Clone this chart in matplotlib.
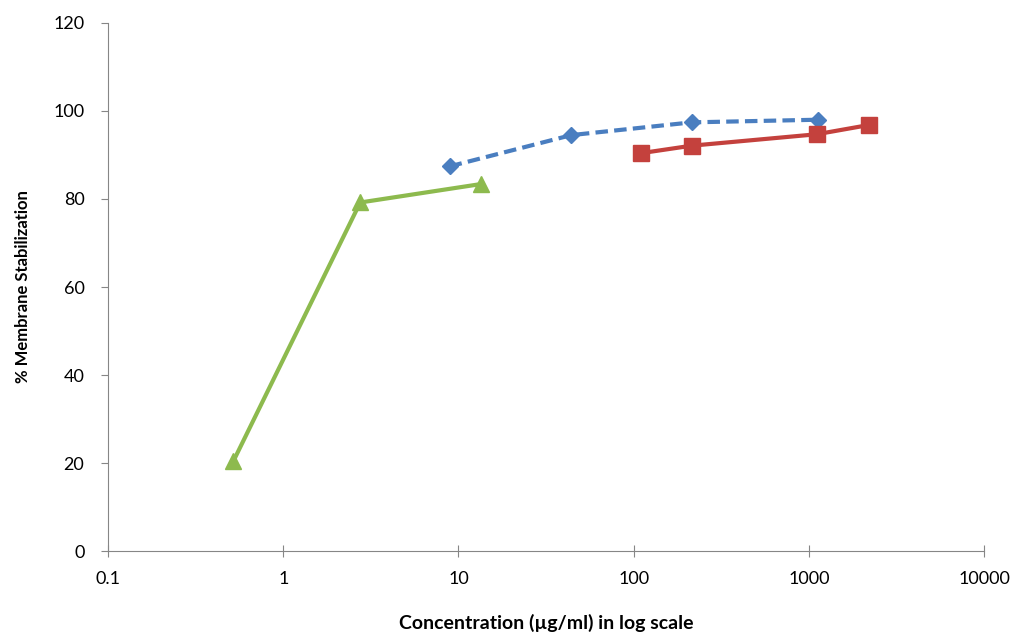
import matplotlib
matplotlib.use('Agg')
import matplotlib.pyplot as plt
from matplotlib.ticker import FixedLocator, FixedFormatter, NullLocator

plt.rcParams['font.family'] = ['Lato', 'DejaVu Sans']

# green triangles
conc_green = [0.52, 2.75, 13.5]
stab_green = [20.5, 79.2, 83.4]
# blue diamonds (dashed)
conc_blue = [8.9, 44, 214, 1125]
stab_blue = [87.4, 94.5, 97.4, 98.0]
# red squares
conc_red = [110, 214, 1110, 2200]
stab_red = [90.4, 92.1, 94.7, 96.8]

x_ticks = [0.1, 1, 10, 100, 1000, 10000]
x_labels = ['0.1', '1', '10', '100', '1000', '10000']
y_ticks = [0, 20, 40, 60, 80, 100, 120]

fig = plt.figure(figsize=(10.23, 6.35), dpi=100)
ax = fig.add_axes([0.1056, 0.132, 0.8564, 0.832])

ax.plot(conc_green, stab_green, color='#8DBA4E', lw=3, marker='^', ms=12)
ax.plot(conc_blue, stab_blue, color='#4A7EC0', lw=3, ls=(0, (3, 1.5)),
        marker='D', ms=8)
ax.plot(conc_red, stab_red, color='#C4413D', lw=3, marker='s', ms=12)

ax.set_xscale('log')
ax.set_xlim(0.1, 10000)
ax.set_ylim(0, 120)
ax.xaxis.set_major_locator(FixedLocator(x_ticks))
ax.xaxis.set_major_formatter(FixedFormatter(x_labels))
ax.xaxis.set_minor_locator(NullLocator())
ax.set_yticks(y_ticks)

for s in ['top', 'right']:
    ax.spines[s].set_visible(False)
for s in ['left', 'bottom']:
    ax.spines[s].set_color('#868686')
ax.tick_params(axis='x', direction='inout', length=8, color='#868686',
               labelsize=13, pad=10)
ax.tick_params(axis='y', direction='out', length=5, color='#868686',
               labelsize=13, pad=12)

ax.set_xlabel('Concentration (\u00b5g/ml) in log scale', fontsize=14,
              fontweight='bold', labelpad=20)
ax.set_ylabel('% Membrane Stabilization', fontsize=12, fontweight='bold',
              labelpad=16)

fig.savefig('out.png', dpi=100)
